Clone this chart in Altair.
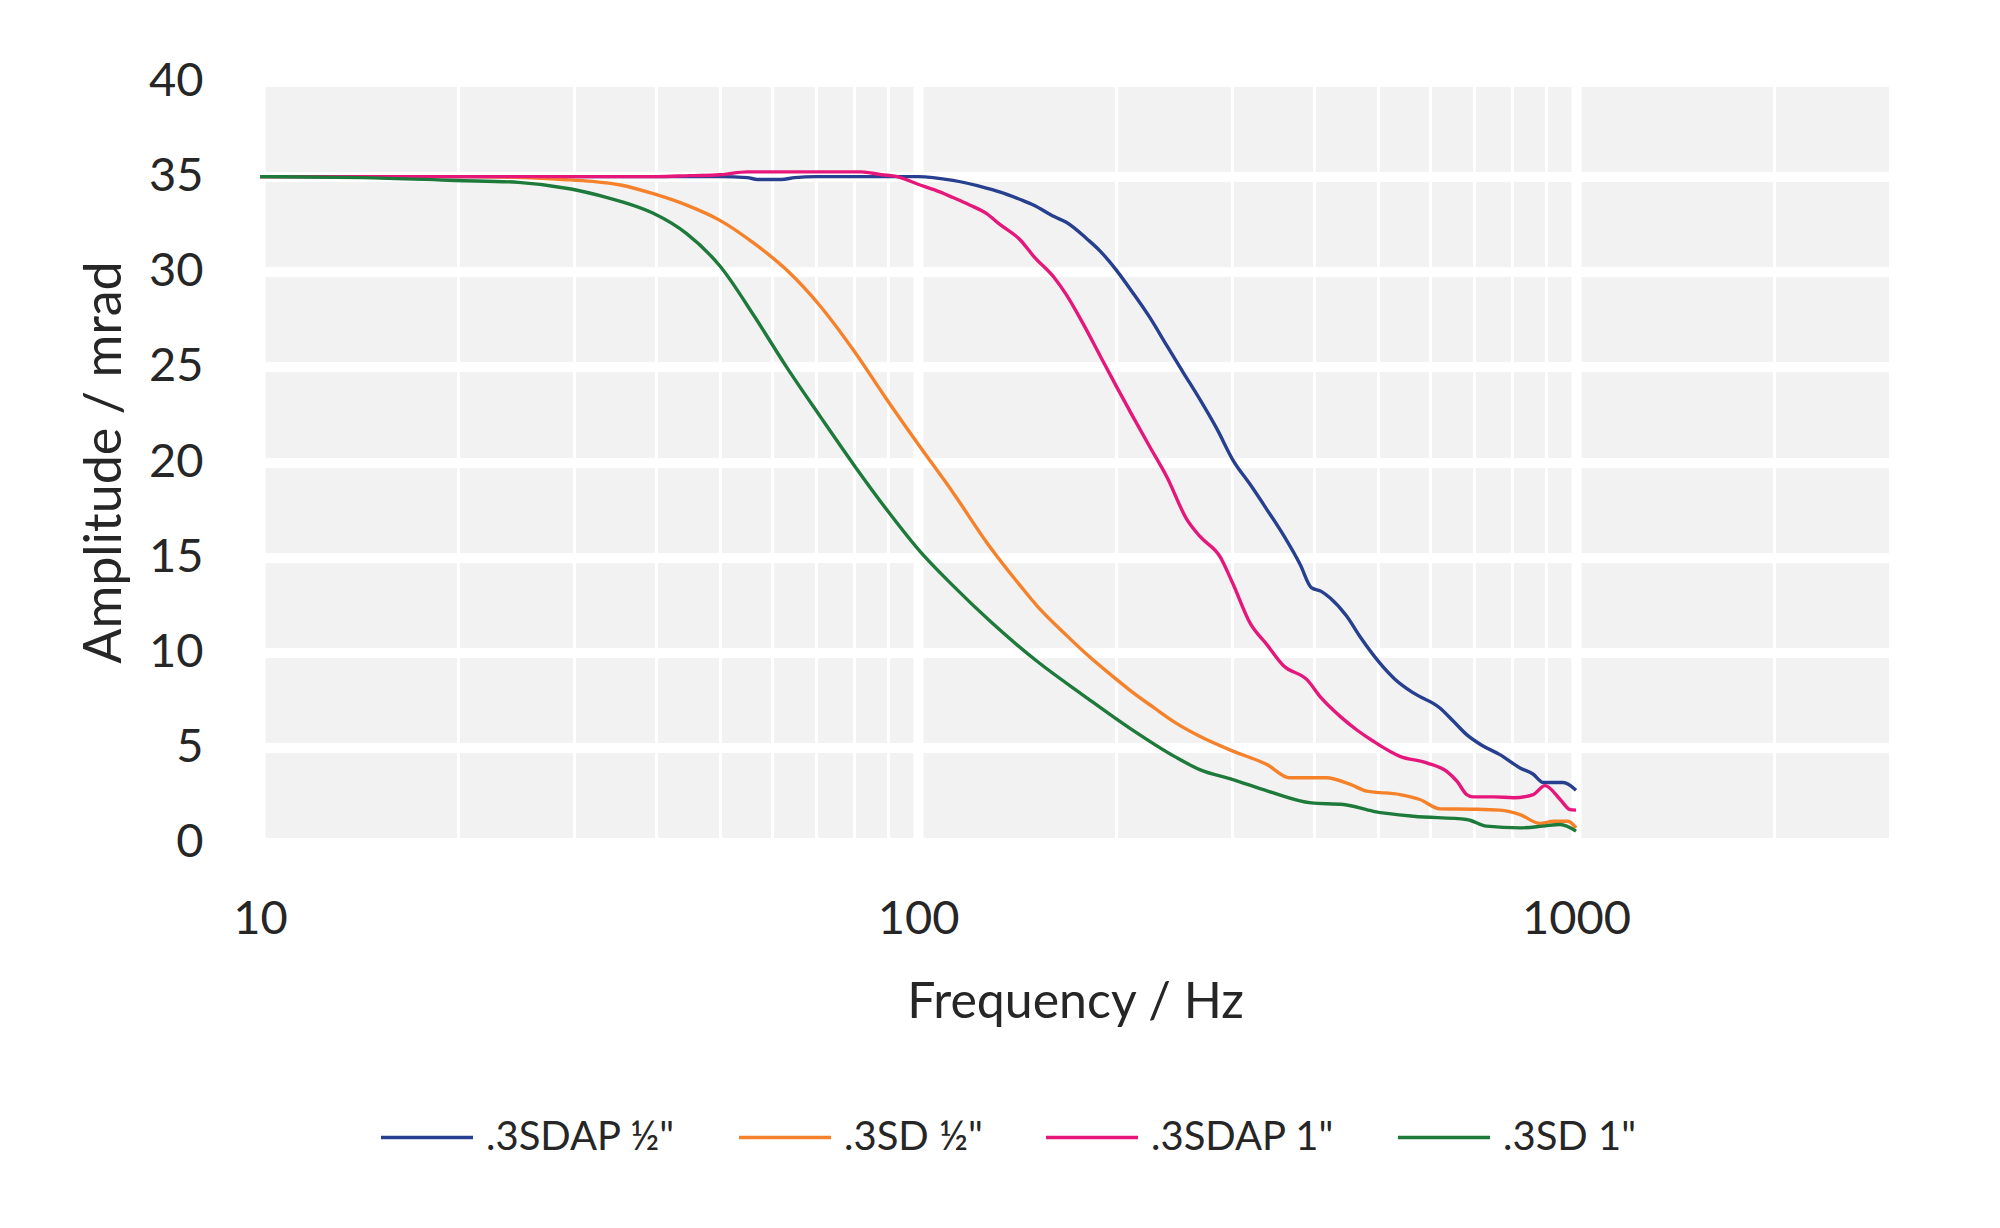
import altair as alt
import pandas as pd

# ---- data ----
series_names = ['.3SDAP ½"', '.3SD ½"', '.3SDAP 1"', '.3SD 1"']
series_colors = ["#263f8f", "#f5822a", "#e5177b", "#1e7a3b"]

f_sdap_half = [10, 20, 30, 40, 50, 55, 57, 62, 65, 70, 80, 90, 100, 113, 127, 133, 143, 150,
               161, 168, 181, 189, 200, 212, 225, 239, 253, 268, 285, 301, 320, 339, 360, 381,
               396, 410, 423, 448, 470, 503, 530, 566, 621, 650, 682, 720, 766, 822, 860, 892,
               956, 1000]
a_sdap_half = [35.0, 35.0, 35.0, 35.0, 35.0, 34.95, 34.85, 34.85, 34.95, 35.0, 35.0, 35.0, 35.0,
               34.8, 34.4, 34.2, 33.8, 33.5, 32.9, 32.6, 31.7, 31.1, 30.1, 28.9, 27.6, 26.1,
               24.7, 23.3, 21.7, 20.1, 18.8, 17.5, 16.1, 14.6, 13.4, 13.2, 12.85, 11.9, 10.8,
               9.44, 8.6, 7.86, 7.07, 6.4, 5.67, 5.1, 4.62, 3.92, 3.6, 3.15, 3.15, 2.75]

f_sd_half = [10, 15, 21, 25, 28.8, 32, 35.3, 39.6, 44.5, 50, 56.3, 63.1, 71, 79.7, 89.6, 100.7,
             113, 127, 143, 152, 168, 179, 195, 210, 228, 246, 268, 301, 339, 367, 417, 454,
             481, 540, 579, 621, 700, 766, 822, 881, 925, 972, 1000]
a_sd_half = [35.0, 35.0, 35.0, 34.95, 34.85, 34.75, 34.56, 34.1, 33.5, 32.7, 31.5, 30.1, 28.2,
             25.9, 23.3, 20.8, 18.4, 15.8, 13.5, 12.4, 10.9, 10.0, 8.9, 8.0, 7.1, 6.3, 5.58,
             4.8, 4.1, 3.4, 3.4, 3.05, 2.7, 2.52, 2.26, 1.77, 1.75, 1.7, 1.47, 1.0, 1.12, 1.12,
             0.77]

f_sdap_one = [10, 20, 30, 40, 45, 50, 55, 82, 88, 93, 100, 106, 113, 120, 127, 133, 143, 150,
              161, 168, 178, 189, 200, 212, 225, 239, 256, 268, 288, 301, 320, 339, 359, 390,
              410, 438, 465, 492, 540, 593, 636, 660, 682, 698, 750, 804, 861, 897, 946, 979,
              1000]
a_sdap_one = [35.0, 35.0, 35.0, 35.0, 35.05, 35.1, 35.25, 35.25, 35.1, 35.0, 34.6, 34.3, 33.9,
              33.5, 33.07, 32.5, 31.67, 30.8, 29.7, 28.8, 27.3, 25.6, 24.0, 22.4, 20.8, 19.2,
              17.0, 16.1, 15.0, 13.6, 11.5, 10.4, 9.3, 8.56, 7.6, 6.63, 5.9, 5.32, 4.53, 4.19,
              3.74, 3.2, 2.52, 2.4, 2.4, 2.35, 2.52, 2.99, 2.26, 1.73, 1.7]

f_sd_one = [10, 14.3, 19.8, 24.7, 29.7, 33.7, 35.3, 39.6, 44.5, 50, 56.3, 63.1, 71, 79.7, 89.6,
            100.7, 113, 129, 152, 179, 210, 246, 268, 301, 340, 396, 443, 492, 566, 682, 731,
            822, 890, 946, 1000]
a_sd_one = [35.0, 34.95, 34.8, 34.7, 34.35, 33.9, 33.7, 33.07, 32.0, 30.3, 27.7, 25.0, 22.4,
            19.9, 17.5, 15.3, 13.5, 11.6, 9.5, 7.7, 6.0, 4.5, 3.83, 3.31, 2.7, 2.08, 2.0, 1.64,
            1.38, 1.21, 0.86, 0.77, 0.86, 0.95, 0.6]

x_tick_values = [10, 20, 30, 40, 50, 60, 70, 80, 90,
                 100, 200, 300, 400, 500, 600, 700, 800, 900,
                 1000, 2000, 3000]
y_tick_values = [0, 5, 10, 15, 20, 25, 30, 35, 40]

# ---- long table ----
rows = []
for name, fs, amps in zip(series_names,
                          [f_sdap_half, f_sd_half, f_sdap_one, f_sd_one],
                          [a_sdap_half, a_sd_half, a_sdap_one, a_sd_one]):
    for f, a in zip(fs, amps):
        rows.append({"Frequency": f, "Amplitude": a, "Series": name})
df = pd.DataFrame(rows)

FONT = "Lato"
TXT = "#262626"
major = "datum.value == 10 || datum.value == 100 || datum.value == 1000"

PLOT_W = 1630
PLOT_H = 761

chart = alt.Chart(df).mark_line(strokeWidth=3.4, interpolate="monotone").encode(
    x=alt.X(
        "Frequency:Q",
        scale=alt.Scale(type="log", domain=[10, 3000], nice=False),
        axis=alt.Axis(
            values=x_tick_values,
            labelExpr=f"({major}) ? format(datum.value, 'd') : ''",
            domain=False, ticks=False,
            grid=True, gridColor="white",
            gridWidth={"condition": {"test": major, "value": 10}, "value": 3},
            labelFont=FONT, labelFontSize=47, labelColor=TXT,
            labelBaseline="alphabetic", labelPadding=91,
            labelFlush=False, labelOverlap=False,
            title="Frequency / Hz", titleFont=FONT, titleFontSize=50,
            titleFontWeight="normal", titleColor=TXT,
            titleX=PLOT_W / 2, titleY=175, titleAlign="center",
            titleBaseline="alphabetic",
        ),
    ),
    y=alt.Y(
        "Amplitude:Q",
        scale=alt.Scale(domain=[0, 40], nice=False),
        axis=alt.Axis(
            values=y_tick_values,
            domain=False, ticks=False,
            grid=True, gridColor="white", gridWidth=10,
            labelFont=FONT, labelFontSize=47, labelColor=TXT,
            labelPadding=57,
            title="Amplitude / mrad", titleFont=FONT, titleFontSize=52,
            titleFontWeight="normal", titleColor=TXT,
            titleAngle=270, titleX=-140, titleY=PLOT_H / 2,
            titleAlign="center", titleBaseline="alphabetic",
        ),
    ),
    color=alt.Color(
        "Series:N",
        scale=alt.Scale(domain=series_names, range=series_colors),
        legend=alt.Legend(
            title=None, orient="none", direction="horizontal",
            legendX=119, legendY=1008,
            symbolType="stroke", symbolSize=8464, symbolStrokeWidth=3.4,
            labelFont=FONT, labelFontSize=40, labelColor=TXT, labelLimit=0,
            labelOffset=11, columnPadding=56, padding=0,
        ),
    ),
).properties(
    width=PLOT_W,
    height=PLOT_H,
    autosize=alt.AutoSizeParams(type="none"),
    padding={"left": 252, "top": 73.5, "right": 100, "bottom": 370},
    background="white",
).configure_view(
    fill="#f2f2f2", stroke="transparent"
)

chart.save("out.html", embed_options={"renderer": "svg", "actions": False})
